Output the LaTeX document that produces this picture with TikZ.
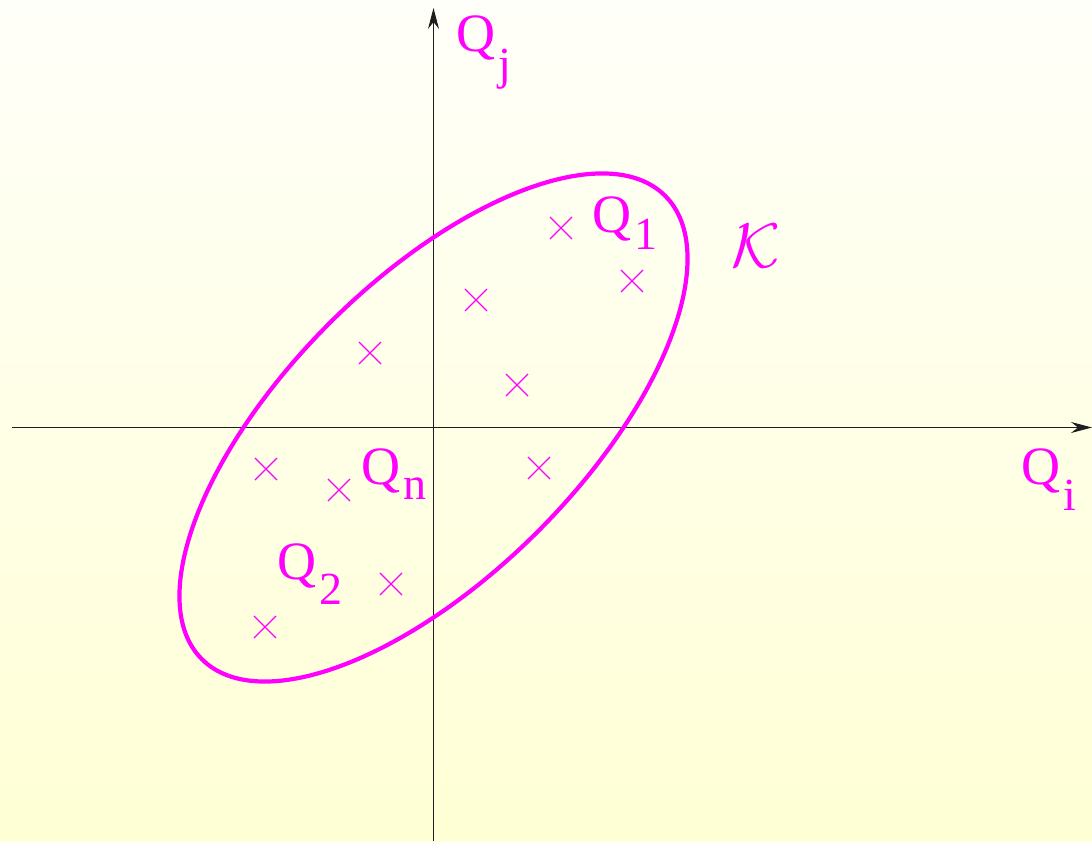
\documentclass[tikz,border=0pt]{standalone}
\usepackage{fontspec}
\setmainfont{Liberation Serif}
\newfontfamily\tms{Liberation Serif}
\usetikzlibrary{arrows.meta,shapes.misc}
\definecolor{bgtop}{RGB}{255,255,249}
\definecolor{bgbot}{RGB}{255,255,213}
\definecolor{mag}{RGB}{255,0,255}
\definecolor{axisgray}{RGB}{30,30,30}
\newcommand\QSub[2]{Q\kern3pt\raisebox{-#2pt}{\fontsize{46}{46}\selectfont #1}}
\tikzset{
  axisline/.style={draw=axisgray, line width=1pt, -{Stealth[length=21pt,width=11pt,inset=7pt]}},
  setline/.style={draw=mag, line width=4.2pt},
  pt/.style={cross out, draw=mag, line width=1.1pt, minimum size=21pt, inner sep=0pt},
  lab/.style={text=mag, inner sep=0pt, anchor=base west, font=\tms\fontsize{54}{54}\selectfont},
}
\begin{document}
\begin{tikzpicture}[x=1pt,y=1pt]
\useasboundingbox (0,0) rectangle (1092,841);
\shade[top color=bgtop, bottom color=bgbot] (0,0) rectangle (1092,841);
% axes
\coordinate (O) at (433.5,413.5);
\coordinate (xl) at (12,413.5);
\coordinate (xr) at (1092,413.5);
\coordinate (yb) at (433.5,0);
\coordinate (yt) at (433.5,833);
\draw[axisline] (xl) -- (xr);
\draw[axisline] (yb) -- (yt);
% set K
\draw[setline] (O) ellipse [x radius=327.6, y radius=147.3, rotate=45];
% points
\node[pt] (p1) at (561,613) {};
\node[pt] (p2) at (632,560) {};
\node[pt] (p3) at (476,541) {};
\node[pt] (p4) at (370,488) {};
\node[pt] (p5) at (517,456) {};
\node[pt] (p6) at (266,372) {};
\node[pt] (p7) at (539,373) {};
\node[pt] (p8) at (339,351) {};
\node[pt] (p9) at (391,257) {};
\node[pt] (p10) at (265,214) {};
% labels
\node[lab] (Qj) at (456,789) {\QSub{j}{28}};
\node[lab] (Q1) at (592,608) {\QSub{1}{17}};
\node[lab] (Qn) at (361,356) {\QSub{n}{15}};
\node[lab] (Q2) at (277,261) {\QSub{2}{25}};
\node[lab] (Qi) at (1021,356) {\QSub{i}{26}};
\node[lab, font=\normalsize] (K) at (731,573) {\scalebox{6.3}{$\mathcal{K}$}};
\end{tikzpicture}
\end{document}
